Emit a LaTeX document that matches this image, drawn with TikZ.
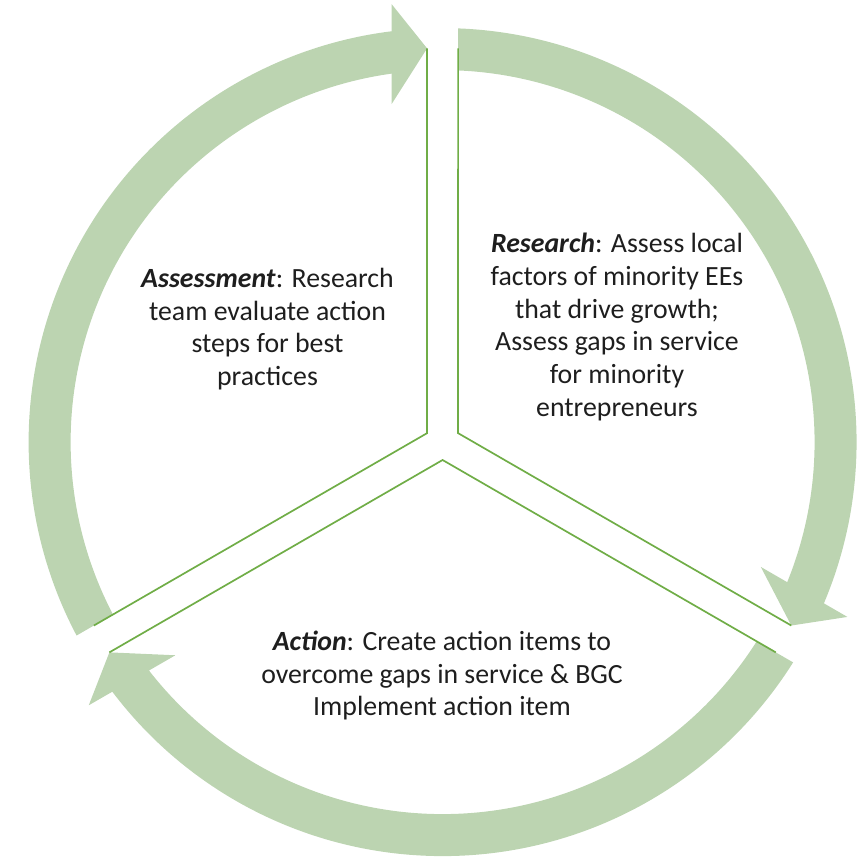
\documentclass[tikz,border=0pt]{standalone}
\usepackage{fontspec}
\setmainfont{Carlito}
\definecolor{bandgreen}{RGB}{188,212,177}
\definecolor{linegreen}{RGB}{112,173,71}
\definecolor{txt}{RGB}{30,30,30}
\begin{document}
\begin{tikzpicture}[x=1pt,y=1pt,
  band/.style={fill=bandgreen,draw=none},
  divider/.style={draw=linegreen,line width=1.7pt,line join=miter},
  txtbox/.style={align=center,text=txt,font=\fontsize{27.8}{32.7}\selectfont,inner sep=0pt}]
\useasboundingbox (-442.6,-420.9) rectangle (415.4,442.1);
% three circular arrows (rotational copies)
\foreach \r in {0,-120,120}{
  \begin{scope}[rotate=\r]
    \path[band] (207.854:414) arc[start angle=207.854,end angle=97.08,radius=414]
      -- (-51,438) -- (-15.5,393.7) -- (-51,338) -- (97.88:372)
      arc[start angle=97.88,end angle=207.612,radius=372] -- cycle;
  \end{scope}}
% sector boundaries
\foreach \r in {0,-120,120}{
  \begin{scope}[rotate=\r]
    \draw[divider] (-15.5,393.7) -- (-15.5,8.95) -- (-348.7,-183.42);
  \end{scope}}
% texts
\node[txtbox] (research) at (174.4,115) {\textbf{\textit{Research}}: Assess local\\ factors of minority EEs\\ that drive growth;\\ Assess gaps in service\\ for minority\\ entrepreneurs};
\node[txtbox] (assessment) at (-175.1,113.1) {\textbf{\textit{Assessment}}: Research\\ team evaluate action\\ steps for best\\ practices};
\node[txtbox] (action) at (-0.6,-233.6) {\textbf{\textit{Action}}: Create action items to\\ overcome gaps in service \& BGC\\ Implement action item};
\end{tikzpicture}
\end{document}
